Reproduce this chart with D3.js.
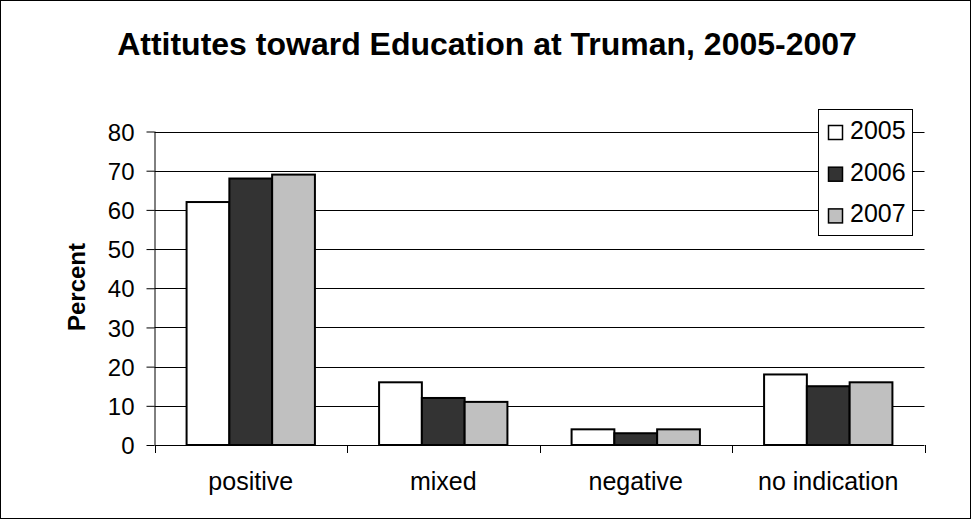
<!DOCTYPE html>
<html><head><meta charset="utf-8">
<script src="https://cdn.jsdelivr.net/npm/d3@7"></script>
<style>body{margin:0;background:#fff}svg{display:block}</style>
</head><body>
<script>
const categories = ["positive", "mixed", "negative", "no indication"];
const seriesNames = ["2005", "2006", "2007"];
const values2005 = [62, 16, 4, 18];
const values2006 = [68, 12, 3, 15];
const values2007 = [69, 11, 4, 16];
const yTicks = [0, 10, 20, 30, 40, 50, 60, 70, 80];
const colors = ["#ffffff", "#333333", "#c0c0c0"];
const title = "Attitutes toward Education at Truman, 2005-2007";
const yLabel = "Percent";

const W = 971, H = 519;
const m = {left: 154.5, right: 924.5, top: 131.5, bottom: 445};
const font = "'Liberation Sans', Arial, sans-serif";
const series = [values2005, values2006, values2007];

const svg = d3.select("body").append("svg").attr("width", W).attr("height", H);
svg.append("rect").attr("x", 0.5).attr("y", 0.5).attr("width", W - 1).attr("height", H - 1)
  .attr("fill", "#fff").attr("stroke", "#000");

const x = d3.scaleBand().domain(categories).range([m.left, m.right]).paddingInner(0).paddingOuter(0);
const y = d3.scaleLinear().domain([0, 80]).range([m.bottom, m.top]);
const bw = x.bandwidth() / 4.5;
const x1 = d3.scaleBand().domain(seriesNames).range([0, bw * 3]);

// gridlines
svg.append("g").selectAll("line").data(yTicks.filter(d => d > 0)).join("line")
  .attr("x1", m.left).attr("x2", m.right)
  .attr("y1", d => Math.round(y(d)) + 0.5).attr("y2", d => Math.round(y(d)) + 0.5)
  .attr("stroke", "#000").attr("stroke-width", 1);

// bars
categories.forEach((c, i) => {
  const g = svg.append("g").attr("transform", `translate(${x(c) + bw * 0.75},0)`);
  g.selectAll("rect").data(seriesNames.map((s, j) => ({s, v: series[j][i], j}))).join("rect")
    .attr("x", d => x1(d.s)).attr("width", x1.bandwidth())
    .attr("y", d => y(d.v)).attr("height", d => y(0) - y(d.v))
    .attr("fill", d => colors[d.j]).attr("stroke", "#000").attr("stroke-width", 2);
});

// y axis
const ya = svg.append("g").attr("transform", `translate(${m.left},0)`)
  .call(d3.axisLeft(y).tickValues(yTicks).tickSize(8).tickPadding(0));
ya.select(".domain").attr("stroke", "#000").attr("d", `M0.5,${m.top}V${m.bottom}`);
ya.selectAll(".tick line").attr("stroke", "#000");
ya.selectAll(".tick text").attr("x", -20).attr("dy", "0.36em").attr("font-family", font).attr("font-size", 24).attr("fill", "#000");

// x axis
const xa = svg.append("g").attr("transform", `translate(0,${m.bottom})`);
xa.append("line").attr("x1", m.left).attr("x2", m.right).attr("y1", 0.5).attr("y2", 0.5).attr("stroke", "#000");
const bounds = categories.map(c => x(c)).concat([m.right]);
xa.selectAll("line.t").data(bounds).join("line").attr("class", "t")
  .attr("x1", d => Math.round(d) + 0.5).attr("x2", d => Math.round(d) + 0.5).attr("y1", 0).attr("y2", 8).attr("stroke", "#000");
xa.selectAll("text").data(categories).join("text")
  .attr("x", d => x(d) + x.bandwidth() / 2).attr("y", 45)
  .attr("text-anchor", "middle").attr("font-family", font).attr("font-size", 25).text(d => d);

// title
svg.append("text").attr("x", 487).attr("y", 55).attr("text-anchor", "middle")
  .attr("font-family", font).attr("font-weight", "bold").attr("font-size", 32).text(title);

// y label
svg.append("text").attr("transform", "translate(85,287) rotate(-90)").attr("text-anchor", "middle")
  .attr("font-family", font).attr("font-weight", "bold").attr("font-size", 24).text(yLabel);

// legend
const lg = svg.append("g");
lg.append("rect").attr("x", 818.5).attr("y", 109.5).attr("width", 94).attr("height", 126)
  .attr("fill", "#fff").attr("stroke", "#000");
seriesNames.forEach((s, j) => {
  const cy = 133 + j * 41.7;
  lg.append("rect").attr("x", 828.5).attr("y", cy - 7.5).attr("width", 14).attr("height", 14)
    .attr("fill", colors[j]).attr("stroke", "#000").attr("stroke-width", 1.5);
  lg.append("text").attr("x", 850).attr("y", cy + 6).attr("font-family", font).attr("font-size", 25).text(s);
});
</script>
</body></html>
